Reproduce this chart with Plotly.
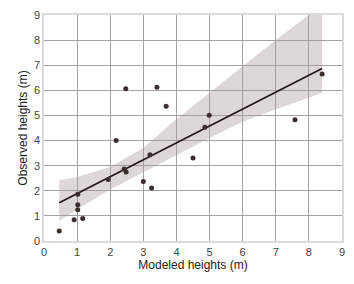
import numpy as np
import plotly.graph_objects as go

# Observed vs modeled heights (m)
modeled = [0.46, 0.91, 1.17, 1.02, 1.02, 1.02, 1.94, 2.42, 2.48, 3.00, 3.25,
           3.20, 2.18, 2.47, 3.41, 3.69, 4.50, 4.86, 4.99, 7.58, 8.40]
observed = [0.40, 0.85, 0.90, 1.24, 1.44, 1.86, 2.45, 2.87, 2.75, 2.37, 2.11,
            3.43, 4.00, 6.06, 6.12, 5.37, 3.31, 4.53, 5.01, 4.83, 6.65]

# Confidence band
band_x = [0.46, 1.0, 2.0, 3.0, 3.81, 5.0, 6.0, 7.0, 8.0, 8.4]
band_lo = [0.80, 1.25, 2.05, 2.75, 3.30, 4.10, 4.75, 5.25, 5.70, 5.90]
band_hi = [2.42, 2.55, 2.95, 3.70, 4.65, 5.90, 6.95, 8.00, 9.00, 9.40]

ticks = list(range(0, 10))

slope, intercept = np.polyfit(modeled, observed, 1)
fit_x = [min(modeled), max(modeled)]
fit_y = [intercept + slope * v for v in fit_x]

FONT = "Liberation Sans, Arial, sans-serif"

fig = go.Figure()
fig.add_trace(go.Scatter(
    x=band_x + band_x[::-1], y=band_hi + band_lo[::-1],
    fill="toself", fillcolor="rgba(165,150,150,0.38)",
    line=dict(width=0), mode="lines", hoverinfo="skip", showlegend=False))
fig.add_trace(go.Scatter(
    x=fit_x, y=fit_y, mode="lines",
    line=dict(color="#231714", width=1.6), showlegend=False))
fig.add_trace(go.Scatter(
    x=modeled, y=observed, mode="markers",
    marker=dict(color="#3b2f2d", size=5), showlegend=False))

axis_common = dict(
    range=[0, 9], tickvals=ticks, ticktext=[str(t) for t in ticks],
    showgrid=True, gridcolor="#a3a3a3", gridwidth=0.8,
    zeroline=False, showline=True, mirror=True,
    linecolor="#dadada", linewidth=1.5, ticks="",
    tickfont=dict(family=FONT, size=11, color="#444444"),
    fixedrange=True,
)
fig.update_xaxes(**axis_common,
                 title=dict(text="Modeled heights (m)", standoff=3,
                            font=dict(family=FONT, size=12, color="#222222")))
fig.update_yaxes(**axis_common,
                 title=dict(text="Observed heights (m)", standoff=4,
                            font=dict(family=FONT, size=12, color="#222222")))

fig.update_layout(
    width=354, height=284,
    margin=dict(l=44, r=12, t=15, b=43, autoexpand=False),
    paper_bgcolor="white", plot_bgcolor="white",
    showlegend=False,
)
fig.write_html("out.html", config={"displayModeBar": False},
               post_script="document.body.style.margin='0';")
